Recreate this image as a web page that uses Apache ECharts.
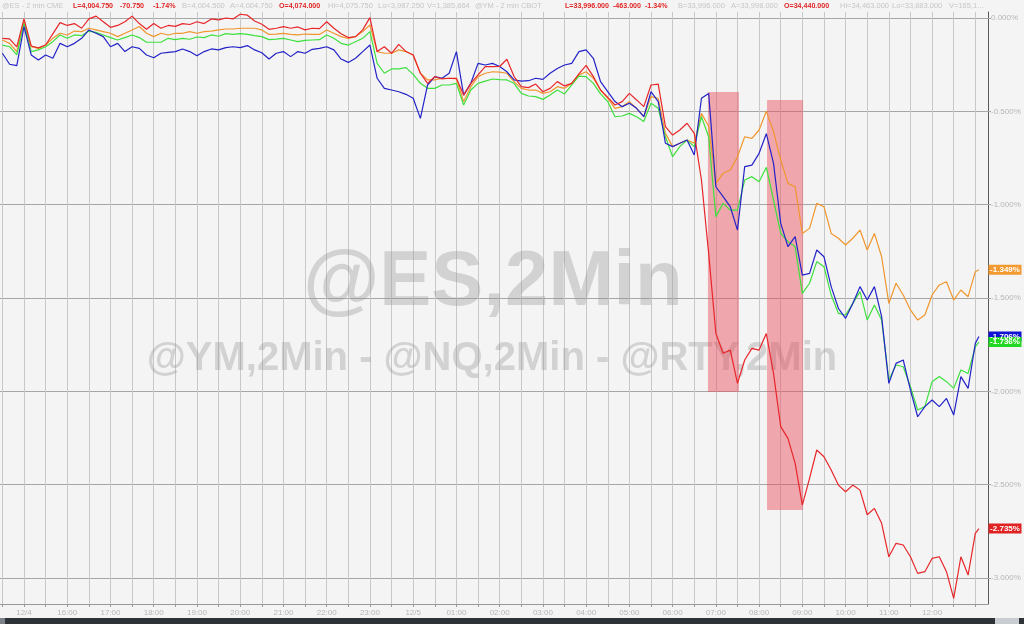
<!DOCTYPE html>
<html>
<head>
<meta charset="utf-8">
<script src="https://cdn.jsdelivr.net/npm/echarts@6/dist/echarts.min.js"></script>
<style>
html,body{margin:0;padding:0;background:#f4f4f4;}
#chart{width:1024px;height:624px;}
</style>
</head>
<body>
<div id="chart"></div>
<script>
// Minutes relative to 12/4 15:00 (sample grid, every 10 min, plus final bar)
const times = [];
for (let t = -30; t <= 1320; t += 10) times.push(t);
times.push(1325);

// % change series
const ymOrange = [
-0.118,-0.136,-0.180,-0.020,-0.154,-0.163,-0.145,-0.109,-0.082,-0.091,
-0.070,-0.073,-0.055,-0.064,-0.073,-0.082,-0.100,-0.082,-0.064,-0.046,
-0.082,-0.100,-0.082,-0.091,-0.082,-0.082,-0.073,-0.082,-0.073,-0.070,
-0.064,-0.059,-0.059,-0.055,-0.055,
-0.055,-0.064,-0.088,-0.086,-0.082,-0.088,-0.091,-0.086,-0.088,-0.088,
-0.064,-0.082,-0.100,-0.109,-0.100,-0.073,-0.038,-0.180,-0.189,-0.189,
-0.171,-0.180,-0.198,-0.296,-0.332,-0.332,-0.323,-0.323,-0.327,-0.448,
-0.368,-0.314,-0.296,-0.288,-0.290,
-0.296,-0.341,-0.377,-0.386,-0.386,-0.404,-0.395,-0.368,-0.377,-0.350,
-0.305,-0.288,-0.323,-0.386,-0.430,-0.484,-0.475,-0.448,-0.484,-0.529,
-0.421,-0.430,-0.618,-0.689,-0.671,-0.654,-0.671,-0.511,-0.580,-0.886,
-0.832,-0.814,-0.743,-0.636,-0.645,
-0.600,-0.500,-0.609,-0.761,-0.886,-0.904,-1.154,-1.127,-0.993,-1.011,
-1.154,-1.180,-1.216,-1.180,-1.136,-1.243,-1.154,-1.279,-1.529,-1.421,
-1.484,-1.564,-1.618,-1.591,-1.484,-1.430,-1.413,-1.511,-1.457,-1.493,
-1.359,-1.349];

const esGreen = [
-0.145,-0.154,-0.198,-0.029,-0.180,-0.171,-0.154,-0.127,-0.091,-0.109,
-0.091,-0.095,-0.070,-0.077,-0.091,-0.105,-0.118,-0.105,-0.091,-0.105,
-0.130,-0.130,-0.130,-0.109,-0.116,-0.109,-0.114,-0.102,-0.105,-0.091,
-0.098,-0.084,-0.088,-0.084,-0.088,
-0.095,-0.100,-0.116,-0.113,-0.109,-0.118,-0.127,-0.120,-0.118,-0.116,
-0.091,-0.109,-0.136,-0.145,-0.127,-0.109,-0.073,-0.243,-0.296,-0.273,
-0.273,-0.266,-0.302,-0.350,-0.377,-0.377,-0.359,-0.359,-0.350,-0.466,
-0.386,-0.350,-0.338,-0.327,-0.330,
-0.332,-0.350,-0.404,-0.418,-0.421,-0.436,-0.413,-0.386,-0.407,-0.359,
-0.311,-0.314,-0.350,-0.407,-0.448,-0.529,-0.525,-0.511,-0.529,-0.555,
-0.457,-0.484,-0.636,-0.743,-0.689,-0.654,-0.689,-0.529,-0.636,-1.064,
-0.993,-1.029,-1.029,-0.868,-0.850,
-0.877,-0.800,-0.975,-1.154,-1.198,-1.225,-1.475,-1.421,-1.305,-1.332,
-1.484,-1.582,-1.591,-1.529,-1.466,-1.618,-1.538,-1.618,-1.939,-1.859,
-1.868,-1.975,-2.100,-2.082,-1.948,-1.921,-1.948,-1.984,-1.886,-1.904,
-1.761,-1.736];

const nqBlue = [
-0.189,-0.248,-0.255,-0.046,-0.198,-0.225,-0.198,-0.216,-0.136,-0.154,
-0.136,-0.109,-0.064,-0.082,-0.100,-0.154,-0.136,-0.180,-0.154,-0.163,
-0.198,-0.213,-0.189,-0.184,-0.180,-0.166,-0.180,-0.202,-0.180,-0.166,
-0.171,-0.159,-0.154,-0.159,-0.148,
-0.171,-0.186,-0.220,-0.189,-0.180,-0.207,-0.180,-0.189,-0.168,-0.163,
-0.154,-0.171,-0.220,-0.238,-0.216,-0.180,-0.145,-0.323,-0.377,-0.386,
-0.395,-0.409,-0.430,-0.538,-0.359,-0.314,-0.323,-0.296,-0.180,-0.413,
-0.350,-0.243,-0.252,-0.243,-0.260,
-0.288,-0.332,-0.338,-0.336,-0.323,-0.329,-0.296,-0.271,-0.252,-0.243,
-0.180,-0.171,-0.216,-0.341,-0.395,-0.448,-0.475,-0.457,-0.484,-0.529,
-0.395,-0.448,-0.671,-0.689,-0.671,-0.654,-0.734,-0.430,-0.404,-0.904,
-0.957,-1.011,-1.136,-0.796,-0.788,
-0.725,-0.620,-0.779,-1.100,-1.225,-1.171,-1.377,-1.368,-1.243,-1.279,
-1.439,-1.555,-1.609,-1.529,-1.439,-1.511,-1.439,-1.600,-1.957,-1.850,
-1.832,-1.993,-2.136,-2.082,-2.046,-2.082,-2.038,-2.127,-1.921,-1.984,
-1.743,-1.706];

const rtyRed = [
-0.109,-0.112,-0.155,-0.005,-0.150,-0.160,-0.145,-0.085,-0.025,-0.040,
-0.030,-0.055,-0.005,0.010,-0.020,-0.050,-0.040,-0.020,0.010,-0.030,
-0.060,-0.030,-0.055,-0.040,-0.045,-0.030,-0.035,-0.020,-0.030,-0.005,
-0.010,0.000,-0.005,0.020,0.015,
-0.016,-0.034,-0.061,-0.055,-0.046,-0.055,-0.048,-0.064,-0.055,-0.057,
-0.020,-0.055,-0.084,-0.105,-0.100,-0.064,0.002,-0.180,-0.154,-0.189,
-0.141,-0.180,-0.198,-0.296,-0.350,-0.314,-0.327,-0.323,-0.323,-0.413,
-0.350,-0.305,-0.261,-0.261,-0.260,
-0.221,-0.314,-0.368,-0.373,-0.354,-0.395,-0.377,-0.341,-0.364,-0.350,
-0.300,-0.254,-0.314,-0.386,-0.425,-0.466,-0.448,-0.404,-0.439,-0.475,
-0.359,-0.354,-0.582,-0.627,-0.600,-0.564,-0.618,-0.868,-1.261,-1.689,
-1.796,-1.779,-1.957,-1.832,-1.770,
-1.779,-1.690,-1.904,-2.189,-2.252,-2.386,-2.609,-2.466,-2.314,-2.350,
-2.421,-2.502,-2.538,-2.502,-2.529,-2.661,-2.627,-2.707,-2.886,-2.814,
-2.823,-2.886,-2.975,-2.966,-2.895,-2.886,-2.966,-3.109,-2.886,-2.984,
-2.761,-2.735];

// highlighted windows: [startMin, endMin, topPct, bottomPct]
const highlightBoxes = [
  [949, 992, -0.396, -2.004],
  [1031, 1081, -0.439, -2.636]
];

// axis ticks / labels
const yTicks = [0, -0.5, -1.0, -1.5, -2.0, -2.5, -3.0];
const xTickMinutes = [];
for (let t = -30; t <= 1320; t += 30) xTickMinutes.push(t);
const xLabelMinutes = [];
for (let t = 0; t <= 1260; t += 60) xLabelMinutes.push(t);
const dateLabels = {0: '12/4', 540: '12/5'};

const X_MIN = -33.3, X_MAX = 1337.6;
const Y_MIN = -3.139, Y_MAX = 0.032;

const headerItems = [
  ['@ES - 2 min CME', 2, false],
  ['L=4,004.750', 73, true], ['-70.750', 120, true], ['-1.74%', 153, true],
  ['B=4,004.500', 182, false], ['A=4,004.750', 230, false],
  ['O=4,074.000', 279, true], ['Hi=4,075.750', 328, false],
  ['Lo=3,987.250', 378, false], ['V=1,385,864', 427, false],
  ['@YM - 2 min CBOT', 475, false],
  ['L=33,996.000', 565, true], ['-463.000', 613, true], ['-1.34%', 645, true],
  ['B=33,996.000', 678, false], ['A=33,998.000', 731, false],
  ['O=34,440.000', 784, true], ['Hi=34,463.000', 840, false],
  ['Lo=33,883.000', 892, false], ['V=165,1...', 949, false]
];

function pairs(arr) { return times.map((t, i) => [t, arr[i]]); }

const seriesDefs = [
  {name: '@YM', data: ymOrange, color: '#f0962e', box: '#f39a30'},
  {name: '@ES', data: esGreen, color: '#3ee03e', box: '#22d822'},
  {name: '@NQ', data: nqBlue, color: '#2323c8', box: '#1212d4'},
  {name: '@RTY', data: rtyRed, color: '#e8262a', box: '#e02222'}
];

const chart = echarts.init(document.getElementById('chart'), null, {renderer: 'canvas'});

const series = seriesDefs.map((s, k) => ({
  name: s.name, type: 'line', data: pairs(s.data), showSymbol: false, symbol: 'none',
  lineStyle: {color: s.color, width: 1.2}, itemStyle: {color: s.color},
  z: 2 + k * 0.1, animation: false
}));

series.push({
  name: 'highlight', type: 'line', data: [], z: 6, silent: true,
  markArea: {
    silent: true,
    itemStyle: {color: 'rgba(236,70,86,0.45)'},
    data: highlightBoxes.map(b => [{coord: [b[0], b[2]]}, {coord: [b[1], b[3]]}])
  }
});

// end-of-line value tags on the right axis (blue under green)
const tagOrder = [0, 2, 1, 3];
series.push({
  name: 'tags', type: 'line', data: [], z: 8, clip: false, silent: true,
  markPoint: {
    silent: true,
    data: tagOrder.map(k => {
      const s = seriesDefs[k];
      const v = s.data[s.data.length - 1];
      return {
        coord: [X_MAX, v], symbol: 'rect', symbolSize: [33, 10], symbolOffset: [17, 0],
        itemStyle: {color: s.box},
        label: {show: true, position: 'inside', color: '#fff', fontSize: 8, fontWeight: 'bold',
                fontFamily: 'Liberation Sans', formatter: v.toFixed(3) + '%'}
      };
    })
  }
});

const graphics = [
  {type: 'text', z: 1, silent: true, style: {text: '@ES,2Min', x: 493, y: 283, textAlign: 'center', textVerticalAlign: 'middle',
    font: 'bold 78px "Liberation Sans"', fill: 'rgba(150,150,150,0.36)'}},
  {type: 'text', z: 1, silent: true, style: {text: '@YM,2Min - @NQ,2Min - @RTY,2Min', x: 492, y: 359, textAlign: 'center', textVerticalAlign: 'middle',
    font: 'bold 40px "Liberation Sans"', fill: 'rgba(150,150,150,0.36)'}},
  {type: 'rect', z: 10, silent: true, shape: {x: 0, y: 618, width: 1024, height: 6}, style: {fill: '#2e3338'}},
  {type: 'rect', z: 11, silent: true, shape: {x: 0, y: 618, width: 5, height: 6}, style: {fill: '#7d8388'}},
  {type: 'rect', z: 11, silent: true, shape: {x: 995, y: 618, width: 24, height: 6}, style: {fill: '#c9cdd1'}}
];
headerItems.forEach(h => {
  graphics.push({type: 'text', z: 10, silent: true, style: {
    text: h[0], x: h[1], y: 6, textVerticalAlign: 'middle',
    font: (h[2] ? 'bold 7.1px' : '7.5px') + ' "Liberation Sans"',
    fill: h[2] ? '#e02525' : '#c6c6c6'
  }});
});

chart.setOption({
  animation: false,
  backgroundColor: '#f4f4f4',
  grid: {left: 0, right: 36, top: 12, bottom: 20, containLabel: false},
  xAxis: {
    type: 'value', min: X_MIN, max: X_MAX,
    axisLine: {show: true, onZero: false, lineStyle: {color: '#9a9a9a', width: 1}},
    axisTick: {show: true, customValues: xTickMinutes, length: 3, lineStyle: {color: '#9a9a9a'}},
    splitLine: {show: true, lineStyle: {color: '#c8c8c8', width: 1}},
    axisLabel: {
      customValues: xLabelMinutes, margin: 5, color: '#b6b6b6', fontSize: 8,
      fontFamily: 'Liberation Sans',
      formatter: v => {
        if (dateLabels[v] !== undefined) return dateLabels[v];
        const h = (15 + Math.round(v / 60)) % 24;
        return (h < 10 ? '0' : '') + h + ':00';
      }
    }
  },
  yAxis: {
    type: 'value', position: 'right', min: Y_MIN, max: Y_MAX,
    axisLine: {show: true, onZero: false, lineStyle: {color: '#5a5a5a', width: 1}},
    axisTick: {show: true, customValues: yTicks, length: 3, lineStyle: {color: '#a8a8a8'}},
    splitLine: {show: true, lineStyle: {color: '#a6a6a6', width: 1}},
    axisLabel: {
      customValues: yTicks, margin: 3, color: '#b6b6b6', fontSize: 8,
      fontFamily: 'Liberation Sans',
      formatter: v => (Math.abs(v) < 1e-9 ? 0 : v).toFixed(3) + '%'
    }
  },
  graphic: graphics,
  series: series
});
</script>
</body>
</html>
